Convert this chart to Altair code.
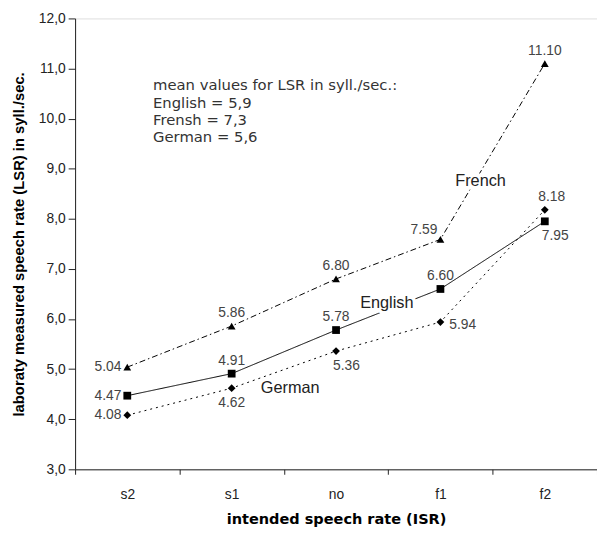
import altair as alt
import pandas as pd

categories = ["s2", "s1", "no", "f1", "f2"]
series_names = ["English", "French", "German"]
english = [4.47, 4.91, 5.78, 6.60, 7.95]
french = [5.04, 5.86, 6.80, 7.59, 11.10]
german = [4.08, 4.62, 5.36, 5.94, 8.18]
english_label_pos = ["left", "above", "above", "above", "below-right"]
french_label_pos = ["left", "above", "above", "above-left", "above"]
german_label_pos = ["left", "below", "below-right", "right", "above-right"]
y_ticks = [3, 4, 5, 6, 7, 8, 9, 10, 11, 12]
mean_text = ["mean values for LSR in syll./sec.:", "English = 5,9", "Frensh = 7,3", "German = 5,6"]

rows = []
for name, vals, poss in [("English", english, english_label_pos),
                         ("French", french, french_label_pos),
                         ("German", german, german_label_pos)]:
    for c, v, p in zip(categories, vals, poss):
        rows.append({"series": name, "cat": c, "value": v, "pos": p, "label": f"{v:.2f}"})
df = pd.DataFrame(rows)

FONT = "Liberation Sans"
INK = "#222222"

x_enc = alt.X(
    "cat:N", sort=categories, bandPosition=0.5,
    scale=alt.Scale(type="band", domain=categories, paddingInner=0, paddingOuter=0),
    axis=alt.Axis(title="intended speech rate (ISR)", tickBand="extent", tickSize=5,
                  labelPadding=14, labelAngle=0, labelFontSize=14, labelFont=FONT,
                  labelColor=INK, titleFont="DejaVu Sans", titleFontSize=14.7,
                  titleFontWeight="bold",
                  titleColor="#000000", titlePadding=10, domainColor=INK, tickColor=INK,
                  grid=False),
)
y_enc = alt.Y(
    "value:Q",
    scale=alt.Scale(domain=[3, 12], nice=False, zero=False),
    axis=alt.Axis(title="laboraty measured speech rate (LSR) in syll./sec.", values=y_ticks,
                  labelExpr="replace(format(datum.value, '.1f'), '.', ',')",
                  tickSize=7, labelPadding=3, labelFontSize=14, labelFont=FONT,
                  labelColor=INK, titleFont=FONT, titleFontSize=15, titleFontWeight="bold",
                  titleColor="#000000", titlePadding=12, domainColor=INK, tickColor=INK,
                  grid=False),
)

base = alt.Chart(df)

lines = base.mark_line(color="#000000", strokeWidth=1).encode(
    x=x_enc, y=y_enc,
    strokeDash=alt.StrokeDash("series:N", legend=None,
                              scale=alt.Scale(domain=series_names,
                                              range=[[1, 0], [6, 3, 1.5, 3], [2, 4]])),
    detail="series:N",
)

points = base.mark_point(filled=True, color="#000000", size=62, opacity=1).encode(
    x=x_enc, y=y_enc,
    shape=alt.Shape("series:N", legend=None,
                    scale=alt.Scale(domain=series_names,
                                    range=["square", "triangle-up", "diamond"])),
)

pos_style = {
    "left": dict(align="right", dx=-6, dy=0),
    "above": dict(align="center", dx=0, dy=-13),
    "below": dict(align="center", dx=0, dy=15),
    "right": dict(align="left", dx=9, dy=3),
    "below-right": dict(align="left", dx=-3, dy=15),
    "above-left": dict(align="right", dx=-3, dy=-9),
    "above-right": dict(align="center", dx=7, dy=-13),
}
value_labels = []
for p, st in pos_style.items():
    value_labels.append(
        base.transform_filter(alt.datum.pos == p).mark_text(
            baseline="middle", font=FONT, fontSize=14, color="#444444", **st
        ).encode(x=x_enc, y=y_enc, text="label:N")
    )

names_df = pd.DataFrame({
    "name": ["French", "English", "German"],
    "px": [411, 316, 218],
    "py": [165, 288, 375],
})
name_halo = alt.Chart(names_df).mark_text(
    font=FONT, fontSize=16.5, color="white", stroke="white", strokeWidth=7, baseline="middle"
).encode(x=alt.X("px:Q", scale=None), y=alt.Y("py:Q", scale=None), text="name:N")
name_text = alt.Chart(names_df).mark_text(
    font=FONT, fontSize=16.5, color=INK, baseline="middle"
).encode(x=alt.X("px:Q", scale=None), y=alt.Y("py:Q", scale=None), text="name:N")

mean_df = pd.DataFrame({
    "line": mean_text,
    "px": [79] * len(mean_text),
    "py": [68, 85.5, 103, 120.5],
})
mean_layer = alt.Chart(mean_df).mark_text(
    font="DejaVu Sans", fontSize=15, color="#333333", align="left", baseline="middle"
).encode(x=alt.X("px:Q", scale=None), y=alt.Y("py:Q", scale=None), text="line:N")

chart = alt.layer(
    lines, name_halo, points, *value_labels, name_text, mean_layer
).properties(
    width=529, height=457,
    autosize=alt.AutoSizeParams(type="none"),
    padding={"left": 68, "top": 7, "right": 0, "bottom": 64},
).configure_view(stroke=None).configure(background="white")

chart.save("out.html", embed_options={"renderer": "svg", "actions": False})
